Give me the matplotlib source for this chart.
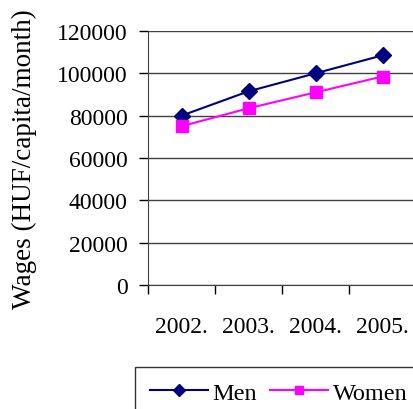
import matplotlib
matplotlib.use("Agg")
import matplotlib.pyplot as plt
import numpy as np

years = ["2002.", "2003.", "2004.", "2005."]
men = [80000, 91500, 100000, 108500]
women = [75000, 83500, 91000, 98500]
y_ticks = [0, 20000, 40000, 60000, 80000, 100000, 120000]

plt.rcParams["font.family"] = ["Liberation Serif", "DejaVu Serif"]

W, H = 413, 410
fig = plt.figure(figsize=(W / 100, H / 100), dpi=100)
ax = fig.add_axes([148 / W, 124 / H, 268 / W, 254 / H])

x = np.arange(1, len(years) + 1)
ax.plot(x, men, color="#000080", lw=1.5, marker="D", markersize=8.5, label="Men")
ax.plot(x, women, color="#FF00FF", lw=1.5, marker="s", markersize=8.5, label="Women")

ax.set_xlim(0.5, len(years) + 0.5)
ax.set_ylim(0, 120000)
ax.set_yticks(y_ticks)
ax.set_yticklabels([str(v) for v in y_ticks], fontsize=17)
ax.yaxis.grid(True, color="#404040", lw=1)
ax.set_axisbelow(True)

# labels sit in the middle of each category, ticks on the boundaries
ax.set_xticks(x)
ax.set_xticklabels(years, fontsize=17)
ax.set_xticks(np.arange(0.5, len(years) + 1), minor=True)
ax.tick_params(axis="x", which="major", length=0, pad=22)
ax.tick_params(axis="x", which="minor", length=6.5, width=1, direction="out")
ax.tick_params(axis="y", length=6.5, width=1, direction="out", pad=8)

for s in ["top", "right"]:
    ax.spines[s].set_visible(False)
ax.spines["left"].set_color("#404040")
ax.spines["bottom"].set_color("#404040")

fig.text(24 / W, 1 - 159 / H, "Wages (HUF/capita/month)", rotation=90,
         ha="center", va="center", fontsize=19.5)

leg = fig.legend(loc="upper left", bbox_to_anchor=(135 / W, 1 - 368 / H), ncol=2,
                 fontsize=17.5, frameon=True, fancybox=False, edgecolor="black",
                 handlelength=2.4, handletextpad=0.2, columnspacing=0.5,
                 borderpad=0.6, borderaxespad=0, markerscale=0.7)
leg.get_frame().set_linewidth(1)

fig.savefig("out.png", dpi=100)
